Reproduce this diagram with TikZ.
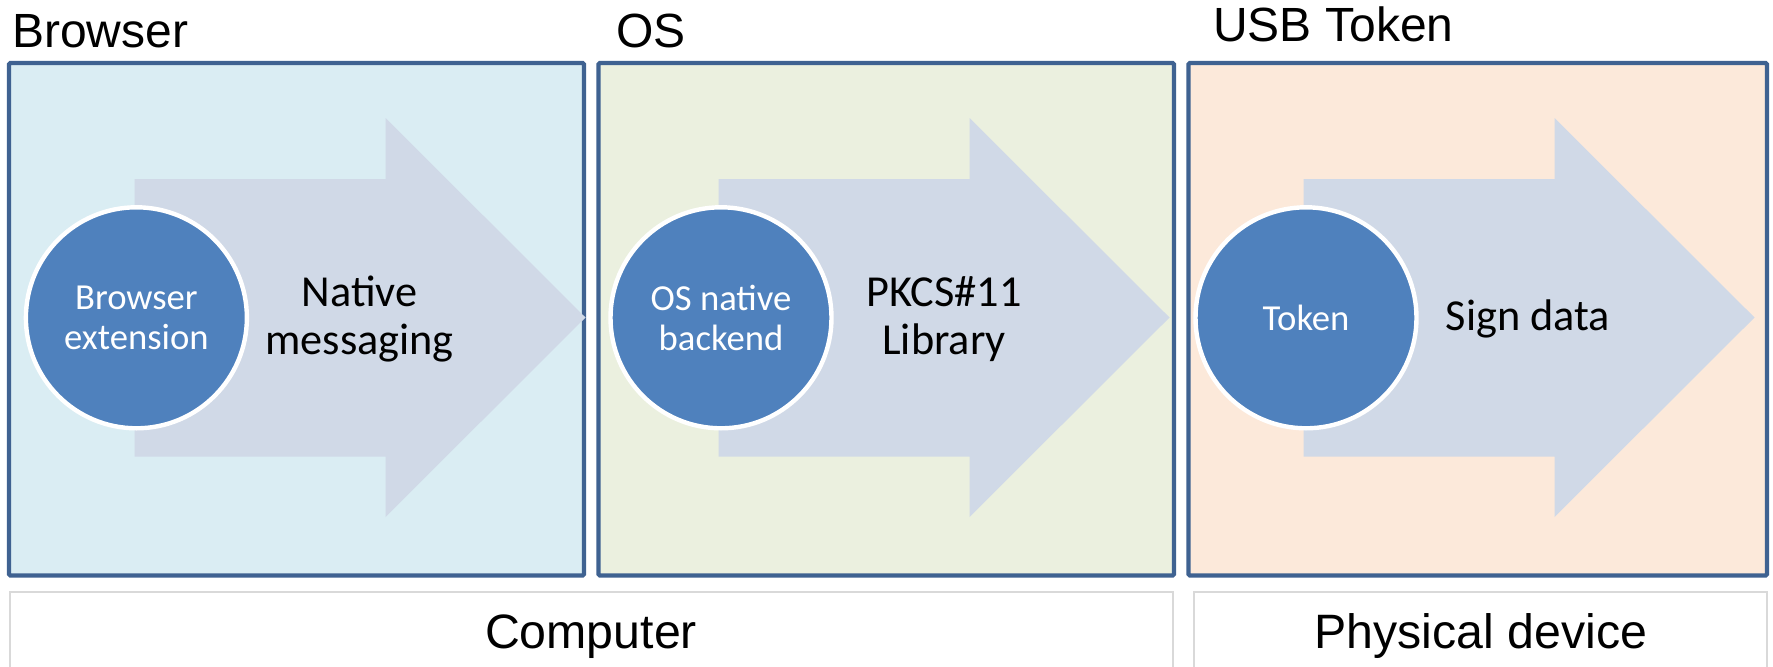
\documentclass[tikz,border=0pt]{standalone}
\usepackage{fontspec}
\setmainfont{Liberation Sans}
\newfontfamily\calib{Carlito}
\definecolor{boxblue}{HTML}{3F6291}
\definecolor{bluefill}{HTML}{DAEDF3}
\definecolor{greenfill}{HTML}{EBF0DF}
\definecolor{peachfill}{HTML}{FCE9DA}
\definecolor{arrowfill}{HTML}{D0D9E7}
\definecolor{discblue}{HTML}{4F81BD}
\definecolor{groupgray}{HTML}{D9D9D9}
\tikzset{
  panel/.style={draw=boxblue, line width=3.2pt, rounded corners=1pt, inner sep=0pt,
    minimum height=384.4pt},
  flowarrow/.style={fill=arrowfill},
  disc/.style={circle, fill=discblue, draw=white, line width=3.3pt, minimum size=165.75pt,
    inner sep=0pt, text=white, align=center, font=\calib\fontsize{27.5}{30.3}\selectfont},
  flowtext/.style={align=center, inner sep=0pt, font=\calib\fontsize{33.2}{35.7}\selectfont},
  paneltitle/.style={anchor=base west, inner sep=0pt, font=\fontsize{36}{42}\selectfont},
  groupline/.style={draw=groupgray, line width=1.5pt},
  grouptext/.style={anchor=base, inner sep=0pt, font=\fontsize{36.2}{43}\selectfont}
}
\begin{document}
\begin{tikzpicture}[x=0.75pt,y=-0.75pt]
\useasboundingbox (0,0) rectangle (1773,667);
\fill[white] (0,0) rectangle (1773,667);

% panels
\node[panel, fill=bluefill,  minimum width=431.25pt] (pbrowser) at (296.5,319.25) {};
\node[panel, fill=greenfill, minimum width=431.55pt] (pos)      at (886.3,319.25) {};
\node[panel, fill=peachfill, minimum width=433.9pt]  (pusb)     at (1477.75,319.25) {};

% titles
\node[paneltitle] (tbrowser) at (12,47.6) {Browser};
\node[paneltitle] (tos)      at (616,47.6) {OS};
\node[paneltitle] (tusb)     at (1213,41.3) {USB Token};

% arrows
\foreach \x in {134.5,718.5,1303.5}{
  \fill[flowarrow] (\x,179) -- ({\x+251},179) -- ({\x+251},118) -- ({\x+451},317.5)
    -- ({\x+251},517) -- ({\x+251},456.5) -- (\x,456.5) -- cycle;
}

% arrow labels
\node[flowtext] (lnative) at (359.5,319) {Native\\messaging};
\node[flowtext] (lpkcs)   at (944,319) {PKCS\#11\\Library};
\node[flowtext] (lsign)   at (1528,319) {Sign data};

% discs
\node[disc] (dext)   at (136.4,317.8) {Browser\\extension};
\node[disc] (dback)  at (721,317.8)   {OS native\\backend};
\node[disc] (dtoken) at (1306,317.8)  {Token};

% groups
\draw[groupline] (9.5,668) |- (1172.5,591.5) -- (1172.5,668);
\draw[groupline] (1194,668) |- (1767,591.5) -- (1767,668);
\node[grouptext] (gcomp) at (591,648.6) {Computer};
\node[grouptext] (gphys) at (1481,648.6) {Physical device};
\end{tikzpicture}
\end{document}
